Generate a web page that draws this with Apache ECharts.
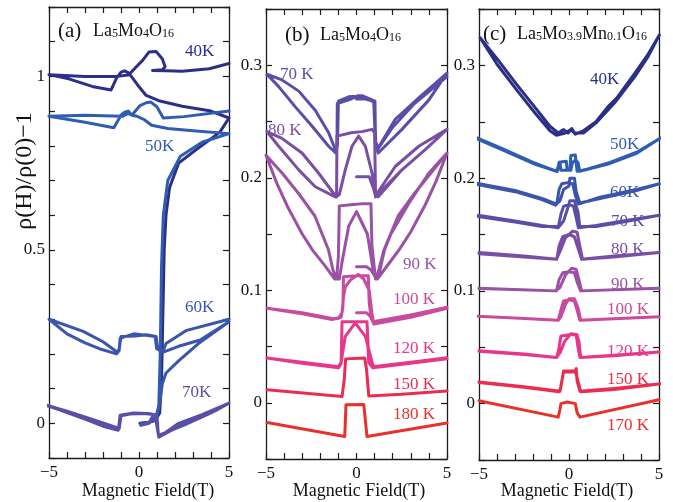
<!DOCTYPE html>
<html><head><meta charset="utf-8">
<script src="https://cdn.jsdelivr.net/npm/echarts@6/dist/echarts.min.js"></script>
<style>html,body{margin:0;padding:0;background:#fff}#c{width:673px;height:502px}</style>
</head><body><div id="c"></div>
<script>
// ---------- tick labels ----------
const xTickValues = [-5, 0, 5];
const xTickTexts = ['\u22125', '0', '5'];
const yTickValuesA = [0, 0.5, 1];
const yTickTextsA = ['0', '0.5', '1'];
const yTickValuesBC = [0, 0.1, 0.2, 0.3];
const yTickTextsBC = ['0', '0.1', '0.2', '0.3'];

// ---------- temperatures / labels ----------
const tempsA = ['40K', '50K', '60K', '70K'];
const tempsB = ['70 K', '80 K', '90 K', '100 K', '120 K', '150 K', '180 K'];
const tempsC = ['40K', '50K', '60K', '70 K', '80 K', '90 K', '100 K', '120 K', '150 K', '170 K'];

// ---------- panel (a) La5Mo4O16 : [field T, rho(H)/rho(0)-1] ----------
const a40 = [[0.05,0.0],[0.5,0.002],[0.9,0.008],[1.15,0.03],[1.25,0.12],[1.32,0.3],[1.4,0.5],[1.5,0.6],[1.7,0.68],[2.2,0.75],[3.2,0.79],[4.0,0.82],[4.5,0.84],[5.0,0.88],
  [4.0,0.9],[2.4,0.914],[1.1,0.93],[0.4,0.945],[0.0,0.97],[-0.28,0.99],[-0.5,1.005],[-1.2,1.0],[-3.0,1.0],[-5.0,1.005],
  [-3.9,0.993],[-2.6,0.971],[-1.55,0.961],[-1.25,0.995],[-1.0,1.012],[-0.8,1.016],[-0.5,1.008],[-0.2,1.025],[0.2,1.046],[0.55,1.07],[0.95,1.072],[1.3,1.05],[1.45,1.028],[1.3,1.019],[0.75,1.017],[1.5,1.016],[2.4,1.015],[3.9,1.022],[5.0,1.037]];
const a50 = [[0.3,0.0],[0.9,0.01],[1.1,0.05],[1.18,0.2],[1.25,0.45],[1.35,0.6],[1.6,0.7],[2.3,0.77],[3.5,0.81],[5.0,0.835],
  [3.0,0.843],[1.6,0.85],[0.7,0.859],[0.3,0.875],[-0.1,0.885],[-0.4,0.888],[-0.6,0.9],[-0.8,0.897],[-1.0,0.888],[-1.4,0.852],[-3.0,0.868],[-5.0,0.885],
  [-3.0,0.888],[-1.5,0.886],[-0.9,0.885],[-0.6,0.893],[-0.4,0.888],[0.06,0.916],[0.4,0.924],[0.65,0.926],[1.0,0.912],[1.35,0.88],[2.5,0.884],[5.0,0.9]];
const a60 = [[0.1,0.0],[0.6,0.003],[1.0,0.02],[1.15,0.06],[1.3,0.115],[1.5,0.145],[2.2,0.18],[3.3,0.23],[5.0,0.293],
  [3.4,0.24],[2.2,0.222],[1.35,0.205],[1.05,0.213],[0.95,0.25],[0.4,0.255],[-0.2,0.252],[-1.0,0.25],[-1.1,0.215],[-1.2,0.205],[-2.0,0.235],[-3.1,0.265],[-5.0,0.3],
  [-4.0,0.258],[-3.0,0.232],[-2.2,0.215],[-1.25,0.2],[-1.1,0.21],[-1.05,0.245],[-0.3,0.258],[0.5,0.253],[0.9,0.25],[0.98,0.215],[1.35,0.21],[1.5,0.23],[2.65,0.268],[5.0,0.3]];
const a70 = [[0.1,-0.006],[0.55,0.0],[0.75,0.02],[1.0,0.02],[1.08,-0.035],[2.5,-0.005],[4.0,0.03],[5.0,0.058],
  [3.5,0.025],[2.2,0.0],[1.1,-0.04],[1.0,0.0],[0.9,0.025],[0.3,0.028],[-0.5,0.027],[-1.0,0.022],[-1.1,-0.015],[-1.2,-0.018],[-2.5,0.01],[-4.0,0.035],[-5.5,0.058],
  [-4.5,0.04],[-3.0,0.012],[-1.9,-0.01],[-1.15,-0.02],[-1.05,0.023],[-0.3,0.03],[0.5,0.028],[0.9,0.025],[1.0,-0.01],[1.1,-0.04],[2.7,0.005],[4.2,0.035],[5.0,0.058]];

// ---------- panel (b) La5Mo4O16 ----------
const b70 = [[0.0,0.27],[0.5,0.27],[0.95,0.268],[1.05,0.23],[1.15,0.225],[2.14,0.252],[3.44,0.271],[5.0,0.293],
  [3.99,0.269],[2.51,0.243],[1.2,0.222],[1.05,0.23],[1.02,0.268],[0.3,0.273],[-0.4,0.272],[-1.0,0.268],[-1.05,0.23],[-1.15,0.222],[-1.54,0.228],[-2.46,0.246],[-3.38,0.263],[-4.3,0.281],[-4.95,0.292],
  [-4.12,0.287],[-3.19,0.277],[-2.28,0.26],[-1.54,0.24],[-1.17,0.225],[-1.08,0.228],[-1.06,0.266],[-0.3,0.27],[0.1,0.273],[0.6,0.27],[1.0,0.267],[1.06,0.232],[1.2,0.226],[2.0,0.245],[3.2,0.266],[5.0,0.29]];
const b80 = [[0.0,0.201],[0.7,0.201],[0.95,0.19],[1.05,0.184],[2.14,0.21],[3.44,0.228],[5.0,0.243],
  [3.8,0.225],[2.51,0.207],[1.05,0.183],[0.95,0.195],[0.86,0.204],[0.49,0.228],[0.12,0.237],[-0.25,0.228],[-0.62,0.207],[-0.95,0.185],[-1.17,0.183],[-2.28,0.192],[-3.19,0.207],[-4.3,0.228],[-4.95,0.241],
  [-4.12,0.235],[-3.01,0.222],[-2.09,0.204],[-1.26,0.186],[-1.1,0.183],[-1.08,0.237],[-0.3,0.24],[0.3,0.241],[0.86,0.243],[1.0,0.24],[1.05,0.186],[1.2,0.183],[2.51,0.207],[3.8,0.225],[5.0,0.243]];
const b90 = [[0.0,0.121],[0.55,0.121],[0.8,0.118],[1.1,0.11],[1.5,0.135],[2.3,0.166],[3.2,0.186],[4.1,0.204],[5.0,0.222],
  [4.4,0.197],[3.8,0.176],[3.0,0.152],[2.4,0.137],[1.8,0.124],[1.15,0.11],[0.95,0.115],[0.6,0.15],[0.0,0.17],[-0.43,0.157],[-0.8,0.125],[-0.95,0.11],[-1.2,0.11],[-1.8,0.123],[-2.4,0.135],[-3.0,0.15],[-3.8,0.174],[-4.4,0.195],[-5.0,0.22],
  [-4.1,0.204],[-3.2,0.186],[-2.3,0.166],[-1.9,0.15],[-1.55,0.136],[-1.3,0.118],[-1.1,0.11],[-1.0,0.13],[-0.95,0.175],[-0.3,0.176],[0.4,0.177],[0.8,0.177],[0.85,0.14],[1.05,0.11],[1.3,0.118],[1.55,0.136],[1.9,0.15],[2.88,0.177],[3.99,0.204],[5.0,0.222]];
const b100 = [[0.0,0.08],[0.55,0.08],[0.8,0.076],[0.9,0.072],[3.0,0.078],[5.0,0.084],
  [3.0,0.076],[0.95,0.07],[0.85,0.08],[0.7,0.1],[0.4,0.11],[0.1,0.114],[-0.34,0.109],[-0.62,0.103],[-0.72,0.094],[-0.8,0.08],[-1.0,0.075],[-1.35,0.075],[-3.0,0.08],[-4.94,0.084],
  [-3.0,0.079],[-1.35,0.074],[-0.85,0.076],[-0.75,0.085],[-0.72,0.112],[0.0,0.113],[0.65,0.113],[0.7,0.09],[0.8,0.075],[1.0,0.071],[3.0,0.078],[5.0,0.085]];
const b120 = [[-0.1,0.072],[0.58,0.072],[0.67,0.04],[0.9,0.032],[3.0,0.036],[5.0,0.04],
  [3.0,0.035],[0.95,0.032],[0.86,0.036],[0.49,0.059],[-0.07,0.071],[-0.62,0.059],[-0.85,0.036],[-1.0,0.032],[-3.0,0.036],[-4.94,0.0397],
  [-3.0,0.035],[-1.0,0.031],[-0.85,0.035],[-0.8,0.072],[0.0,0.072],[0.58,0.072],[0.67,0.036],[0.9,0.031],[3.0,0.035],[5.0,0.039]];
const b150 = [[-4.94,0.0116],[-2.5,0.008],[-0.8,0.0056],[-0.68,0.02],[-0.6,0.039],[-0.5,0.0397],[0.45,0.0397],[0.55,0.03],[0.68,0.006],[0.75,0.005],[2.5,0.0075],[5.0,0.0105]];
const b180 = [[-4.94,-0.0175],[-0.65,-0.03],[-0.58,-0.0018],[-0.5,-0.0015],[0.4,-0.0015],[0.48,-0.002],[0.58,-0.03],[5.0,-0.018]];

// ---------- panel (c) La5Mo3.9Mn0.1O16 ----------
const c40 = [[-4.94,0.3245],[-4.0,0.306],[-2.9,0.283],[-1.9,0.263],[-1.06,0.246],[-0.6,0.24],[-0.3,0.243],[-0.05,0.24],[0.15,0.244],[0.35,0.239],[0.8,0.242],[1.5,0.25],[2.2,0.264],[2.65,0.271],[3.7,0.294],[4.4,0.31],[5.02,0.327],
  [4.4,0.308],[3.7,0.291],[2.6,0.268],[1.5,0.249],[0.8,0.24],[0.3,0.24],[0.1,0.243],[-0.2,0.24],[-0.7,0.238],[-1.06,0.242],[-1.9,0.258],[-2.9,0.278],[-4.0,0.301],[-4.94,0.3245]];
const c50 = [[-5.3,0.237],[-3.83,0.227],[-2.0,0.214],[-1.0,0.208],[-0.65,0.206],[-0.55,0.214],[-0.15,0.215],[-0.1,0.207],[0.05,0.207],[0.1,0.22],[0.35,0.2205],[0.4,0.213],[0.45,0.206],[1.0,0.208],[2.28,0.214],[3.76,0.223],[5.33,0.238],
  [3.76,0.222],[2.28,0.213],[0.6,0.206],[0.5,0.214],[0.35,0.216],[0.2,0.214],[0.1,0.207],[-0.45,0.207],[-0.5,0.214],[-0.6,0.214],[-0.7,0.206],[-2.0,0.213],[-3.83,0.226],[-5.3,0.236]];
const c60 = [[-5.3,0.196],[-3.0,0.189],[-1.5,0.182],[-0.68,0.177],[-0.55,0.19],[-0.4,0.195],[-0.1,0.196],[0.2,0.195],[0.35,0.185],[0.52,0.177],[1.72,0.183],[3.76,0.19],[5.02,0.195],
  [3.76,0.189],[1.72,0.182],[0.6,0.178],[0.4,0.188],[0.3,0.2],[0.05,0.2],[0.0,0.193],[-0.3,0.19],[-0.5,0.18],[-0.75,0.176],[-1.5,0.181],[-3.0,0.188],[-5.3,0.195]];
const c70 = [[-5.05,0.167],[-3.0,0.162],[-1.5,0.158],[-0.6,0.156],[-0.45,0.168],[-0.3,0.175],[0.0,0.177],[0.25,0.175],[0.4,0.165],[0.52,0.156],[1.5,0.158],[3.0,0.162],[5.02,0.167],
  [3.0,0.161],[1.5,0.157],[0.6,0.157],[0.5,0.17],[0.3,0.18],[0.05,0.18],[-0.1,0.172],[-0.3,0.162],[-0.55,0.157],[-1.5,0.157],[-3.0,0.161],[-5.05,0.166]];
const c80 = [[-5.0,0.134],[-2.5,0.131],[-0.68,0.128],[-0.55,0.14],[-0.35,0.148],[0.0,0.15],[0.3,0.148],[0.5,0.138],[0.7,0.128],[2.5,0.131],[5.0,0.134],
  [2.5,0.13],[0.75,0.128],[0.6,0.14],[0.45,0.152],[0.2,0.153],[-0.2,0.147],[-0.5,0.135],[-0.7,0.128],[-2.5,0.13],[-5.0,0.133]];
const c90 = [[-5.0,0.1024],[-0.7,0.1],[-0.55,0.11],[-0.35,0.116],[0.0,0.117],[0.3,0.116],[0.45,0.108],[0.65,0.1],[5.0,0.1024],
  [0.7,0.1],[0.55,0.11],[0.4,0.119],[0.15,0.12],[-0.2,0.114],[-0.5,0.103],[-0.75,0.1],[-5.0,0.102]];
const c100 = [[-5.7,0.078],[-3.0,0.076],[-0.6,0.074],[-0.45,0.083],[-0.3,0.091],[0.0,0.092],[0.3,0.091],[0.45,0.083],[0.6,0.074],[5.0,0.077],
  [0.65,0.074],[0.5,0.085],[0.3,0.093],[0.0,0.093],[-0.2,0.088],[-0.45,0.077],[-0.6,0.074],[-3.0,0.076],[-5.7,0.078]];
const c120 = [[-5.0,0.047],[-2.5,0.044],[-0.68,0.041],[-0.55,0.05],[-0.45,0.06],[0.0,0.061],[0.4,0.061],[0.5,0.05],[0.61,0.041],[2.5,0.043],[5.0,0.0457],
  [2.5,0.0425],[0.65,0.041],[0.55,0.055],[0.45,0.061],[0.1,0.062],[-0.25,0.055],[-0.5,0.045],[-0.7,0.041],[-2.5,0.0435],[-5.0,0.0465]];
const c150 = [[-5.0,0.0192],[-2.5,0.015],[-0.5,0.011],[-0.4,0.02],[-0.3,0.028],[0.3,0.028],[0.4,0.031],[0.45,0.02],[0.61,0.011],[2.5,0.0135],[5.33,0.018],
  [2.5,0.0125],[0.65,0.0105],[0.5,0.02],[0.35,0.029],[-0.3,0.029],[-0.45,0.015],[-0.55,0.0105],[-2.5,0.0145],[-5.0,0.0188]];
const c170 = [[-5.0,0.0025],[-0.6,-0.012],[-0.5,-0.005],[-0.45,0.0],[-0.1,0.0015],[0.35,0.0],[0.45,-0.008],[0.61,-0.012],[5.0,0.0035]];

// ---------- styling ----------
const FAM = 'Liberation Serif';
const COL = {40:'#2c2f86',50:'#2f5db2',60:'#3b55ac',70:'#5a4fa6',80:'#7a4ea4',90:'#9a53a4',100:'#c84b9d',120:'#e6378a',150:'#e92c50',170:'#e8312b',180:'#e8312b'};
const AX = '#1c1c1c';

function xFmt(v){ for (let i=0;i<xTickValues.length;i++) if (Math.abs(v-xTickValues[i])<1e-6) return xTickTexts[i]; return ''; }
function yFmt(vals, txts){ return function(v){ for (let i=0;i<vals.length;i++) if (Math.abs(v-vals[i])<1e-6) return txts[i]; return ''; }; }

const grids = [
  {left:49, top:7, width:180, height:451},
  {left:266, top:9, width:181, height:450},
  {left:479, top:9, width:180, height:451}
];
const yRanges = [[-0.1,1.2,0.1],[-0.05,0.35,0.05],[-0.05,0.35,0.05]];
const yFmts = [yFmt(yTickValuesA,yTickTextsA), yFmt(yTickValuesBC,yTickTextsBC), yFmt(yTickValuesBC,yTickTextsBC)];

const xAxis = [], yAxis = [];
for (let g=0; g<3; g++){
  const line = {show:true, onZero:false, lineStyle:{color:AX, width:1.3}};
  const tick = {show:true, inside:true, length:6, lineStyle:{color:AX, width:1.2}};
  xAxis.push({gridIndex:g, type:'value', min:-5, max:5, interval:1, position:'bottom', axisLine:line, axisTick:tick,
    splitLine:{show:false}, axisLabel:{formatter:xFmt, margin:6, fontSize:17, fontFamily:FAM, color:'#111'}});
  xAxis.push({gridIndex:g, type:'value', min:-5, max:5, interval:1, position:'top', axisLine:line, axisTick:tick,
    splitLine:{show:false}, axisLabel:{show:false}});
  const r = yRanges[g];
  yAxis.push({gridIndex:g, type:'value', min:r[0], max:r[1], interval:r[2], position:'left', axisLine:line, axisTick:tick,
    splitLine:{show:false}, axisLabel:{formatter:yFmts[g], margin:4, fontSize:17, fontFamily:FAM, color:'#111'}});
  yAxis.push({gridIndex:g, type:'value', min:r[0], max:r[1], interval:r[2], position:'right', axisLine:line, axisTick:tick,
    splitLine:{show:false}, axisLabel:{show:false}});
}

function S(g, data, t){
  return {type:'line', xAxisIndex:2*g, yAxisIndex:2*g, data:data, showSymbol:false, symbol:'none', clip:false, silent:true,
    lineStyle:{color:COL[t], width:3, join:'round', cap:'round'}, animation:false};
}
const series = [
  S(0,a40,40), S(0,a50,50), S(0,a60,60), S(0,a70,70),
  S(1,b70,70), S(1,b80,80), S(1,b90,90), S(1,b100,100), S(1,b120,120), S(1,b150,150), S(1,b180,180),
  S(2,c40,40), S(2,c50,50), S(2,c60,60), S(2,c70,70), S(2,c80,80), S(2,c90,90), S(2,c100,100), S(2,c120,120), S(2,c150,150), S(2,c170,170)
];

// ---------- texts ----------
function T(x, y, text, color, size, align){
  return {type:'text', x:x, y:y, silent:true, style:{text:text, fill:color, fontSize:size||17, fontFamily:FAM, align:align||'left', verticalAlign:'middle'}};
}
const labelPos = {
  a:[[185,52,40],[145,147,50],[185,308,60],[182,393,70]],
  b:[[280,75,70],[268,131,80],[403,265,90],[393,300,100],[393,349,120],[393,385,150],[393,415,180]],
  c:[[590,80,40],[610,145,50],[610,193,60],[611,222,70],[611,250,80],[611,285,90],[607,310,100],[607,352,120],[607,380,150],[607,426,170]]
};
const graphics = [];
labelPos.a.forEach((p,i)=>graphics.push(T(p[0],p[1],tempsA[i],COL[p[2]])));
labelPos.b.forEach((p,i)=>graphics.push(T(p[0],p[1],tempsB[i],COL[p[2]])));
labelPos.c.forEach((p,i)=>graphics.push(T(p[0],p[1],tempsC[i],COL[p[2]])));

const rich = {m:{fontSize:18, fontFamily:FAM, fill:'#111', lineHeight:18, verticalAlign:'middle'},
              s:{fontSize:12, fontFamily:FAM, fill:'#111', lineHeight:8, verticalAlign:'bottom'}};
function F(x, y, txt){ return {type:'text', x:x, y:y, silent:true, style:{text:txt, rich:rich, fontFamily:FAM, align:'left', verticalAlign:'middle', fill:'#111'}}; }
graphics.push(T(58, 31, '(a)', '#111', 21));
graphics.push(F(93, 31, '{m|La}{s|5}{m|Mo}{s|4}{m|O}{s|16}'));
graphics.push(T(285, 35, '(b)', '#111', 21));
graphics.push(F(320, 35, '{m|La}{s|5}{m|Mo}{s|4}{m|O}{s|16}'));
graphics.push(T(483, 34, '(c)', '#111', 21));
graphics.push(F(517, 34, '{m|La}{s|5}{m|Mo}{s|3.9}{m|Mn}{s|0.1}{m|O}{s|16}'));

graphics.push({type:'text', x:25, y:171, rotation:Math.PI/2, silent:true,
  style:{text:'\u03c1(H)/\u03c1(0)\u22121', fill:'#111', fontSize:24, fontFamily:FAM, align:'center', verticalAlign:'middle'}});
graphics.push(T(148, 491, 'Magnetic Field(T)', '#111', 18, 'center'));
graphics.push(T(359, 491, 'Magnetic Field(T)', '#111', 18, 'center'));
graphics.push(T(567, 491, 'Magnetic Field(T)', '#111', 18, 'center'));

const chart = echarts.init(document.getElementById('c'), null, {renderer:'canvas'});
chart.setOption({animation:false, backgroundColor:'#fff', grid:grids, xAxis:xAxis, yAxis:yAxis, series:series, graphic:graphics});
</script></body></html>
